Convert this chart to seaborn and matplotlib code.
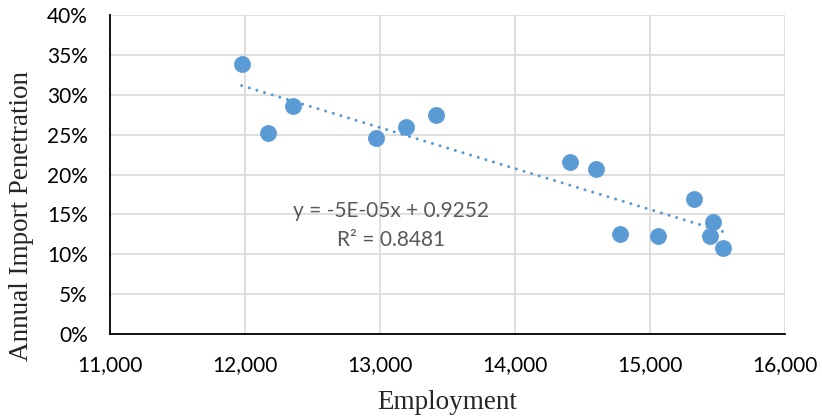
import numpy as np
import pandas as pd
import matplotlib
matplotlib.use('Agg')
import matplotlib.pyplot as plt
import seaborn as sns
from matplotlib.ticker import FuncFormatter

# Employment vs annual import penetration
employment = [11975, 12168, 12358, 12968, 13190, 13417, 14407, 14598,
              15323, 14778, 15062, 15469, 15444, 15543]
penetration = [0.339, 0.252, 0.286, 0.246, 0.259, 0.275, 0.216, 0.207,
               0.169, 0.126, 0.123, 0.140, 0.123, 0.108]
equation_lines = ['y = -5E-05x + 0.9252', 'R\u00b2 = 0.8481']

df = pd.DataFrame({'Employment': employment, 'Penetration': penetration})

sns.set_style('white')
plt.rcParams['font.family'] = ['Lato', 'DejaVu Sans']

fig = plt.figure(figsize=(8.22, 4.17), dpi=100)
ax = fig.add_axes([0.1338, 0.199, 0.8212, 0.765])

blue = '#5B9BD5'

# Linear trendline over the data range
sns.regplot(data=df, x='Employment', y='Penetration', ax=ax, scatter=False,
            ci=None, truncate=True,
            line_kws=dict(color=blue, linewidth=2.2, linestyle=(0, (0.01, 2.6)),
                          dash_capstyle='round', zorder=2))

sns.scatterplot(data=df, x='Employment', y='Penetration', ax=ax, color=blue,
                s=135, edgecolor=blue, linewidth=0.5, zorder=3)

ax.set_xlim(11000, 16000)
ax.set_ylim(0, 0.40)
ax.set_xticks(np.arange(11000, 16001, 1000))
ax.set_yticks(np.arange(0, 0.401, 0.05))
ax.xaxis.set_major_formatter(FuncFormatter(lambda v, p: f'{int(v):,}'))
ax.yaxis.set_major_formatter(FuncFormatter(lambda v, p: f'{v*100:.0f}%'))

ax.grid(True, color='#d9d9d9', linewidth=1.2, zorder=0)
ax.set_axisbelow(True)
for side in ['top', 'right']:
    ax.spines[side].set_visible(False)
ax.spines['left'].set_color('black')
ax.spines['bottom'].set_color('black')
ax.spines['left'].set_linewidth(1.3)
ax.spines['bottom'].set_linewidth(1.3)

ax.tick_params(axis='x', length=0, pad=15, labelsize=15, colors='black')
ax.tick_params(axis='y', length=0, pad=16, labelsize=15, colors='black')

ax.set_xlabel('Employment', family=['Liberation Serif'], fontsize=19.5, labelpad=11)
ax.set_ylabel('Annual Import Penetration', family=['Liberation Serif'], fontsize=19.5)
# the y title sits lower than the plot centre in the original
ax.yaxis.set_label_coords(-0.112, 0.37)

ax.text(13081, 0.154, equation_lines[0], ha='center', va='center',
        fontsize=15, color='#595959')
ax.text(13081, 0.118, equation_lines[1], ha='center', va='center',
        fontsize=15, color='#595959')

plt.savefig('out.png', dpi=100)
